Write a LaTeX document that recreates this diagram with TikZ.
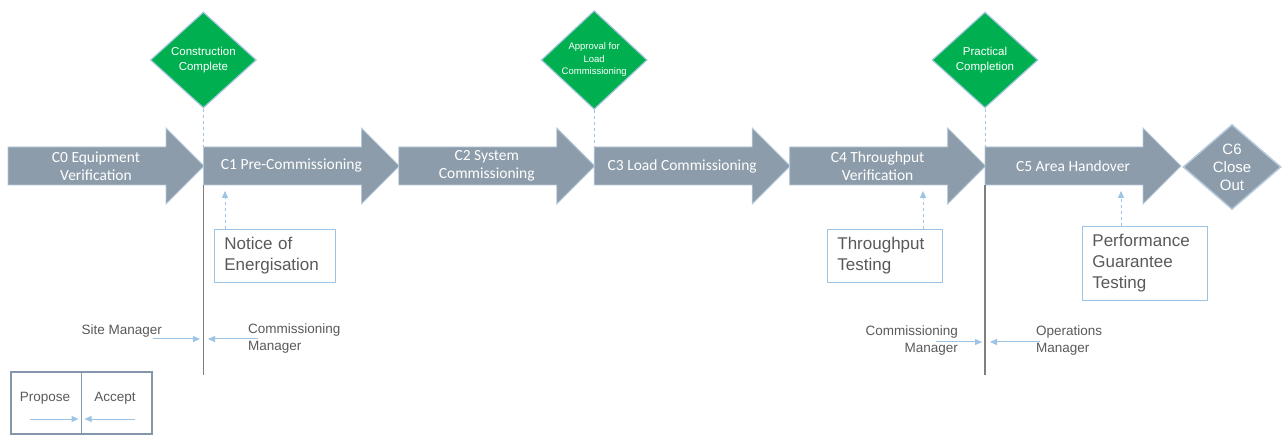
\documentclass[tikz,border=0pt]{standalone}
\usepackage{fontspec}
\setmainfont{Liberation Sans}
\newfontfamily\phasefont{Carlito}
\usepackage{tikz}
\usetikzlibrary{arrows.meta,positioning,calc,shapes.geometric}
\definecolor{phase}{HTML}{8D9CAA}
\definecolor{phaseln}{HTML}{B7C9DA}
\definecolor{gatefill}{HTML}{00B050}
\definecolor{gateln}{HTML}{A8C8E2}
\definecolor{muted}{HTML}{595959}
\definecolor{link}{HTML}{9DC3E6}
\definecolor{rule}{HTML}{7F7F7F}
\definecolor{keyln}{HTML}{8496A9}
\tikzset{
  phb/.style={fill=phase, draw=phaseln, line width=0.8pt},
  phtxt/.style={text=white, align=center, inner sep=0pt,
                font=\phasefont\fontsize{15.5}{18}\selectfont},
  gatb/.style={diamond, fill=gatefill, draw=gateln, line width=1.2pt,
               minimum width=106pt, minimum height=96pt, inner sep=0pt,
               text=white, align=center, font=\fontsize{11.5}{15}\selectfont},
  endb/.style={diamond, fill=phase, draw=phaseln, line width=1.5pt,
               minimum width=98pt, minimum height=82pt, inner sep=0pt,
               text=white, align=center, font=\fontsize{15}{18}\selectfont},
  notb/.style={draw=link, line width=0.8pt, text=muted, align=left,
               anchor=north west, inner xsep=10pt, inner ysep=8pt,
               font=\fontsize{17}{21}\selectfont},
  lbl/.style={text=muted, inner sep=0pt, font=\fontsize{13.5}{17}\selectfont},
  ar/.style={-{Triangle[length=7pt,width=6pt]}, draw=link, line width=1pt},
  dsh/.style={draw=link, line width=1pt, dashed},
  bar/.style={draw=rule, line width=1.2pt},
  keyb/.style={draw=keyln, line width=2pt, minimum width=141pt,
               minimum height=62pt, anchor=north west},
}
\begin{document}
\begin{tikzpicture}[x=1pt, y=-1pt]
  \useasboundingbox (0,0) rectangle (1282,435);

  % --- phase arrows C0 .. C5 ---
  \foreach \i/\txt in {0/{C0 Equipment\\Verification}, 1/{C1 Pre-Commissioning},
                       2/{C2 System\\Commissioning}, 3/{C3 Load Commissioning},
                       4/{C4 Throughput\\Verification}, 5/{C5 Area Handover}}{
    \pgfmathsetmacro\xs{8 + \i*195.4}
    \draw[phb] (\xs,147) -- (\xs+158,147) -- (\xs+158,128) -- (\xs+196,166)
               -- (\xs+158,204) -- (\xs+158,185) -- (\xs,185) -- cycle;
    \node[phtxt] (p\i) at (\xs+88,166) {\txt};
    \coordinate (p\i-nw) at (\xs,147);
    \coordinate (p\i-sw) at (\xs,185);
  }
  \node[endb] (c6) at (1232,167) {C6\\Close\\Out};

  % --- gates above the arrows ---
  \node[gatb] (g1) at (p1-nw |- 0,60) {Construction\\Complete};
  \node[gatb, font=\fontsize{9.5}{12.5}\selectfont] (g3) at (p3-nw |- 0,60)
       {Approval for\\Load\\Commissioning};
  \node[gatb] (g5) at (p5-nw |- 0,60) {Practical\\Completion};
  \foreach \g in {1,3,5}
    \draw[dsh] (g\g.south) -- (p\g-nw);

  % --- handover bars ---
  \coordinate (r1) at (p1-sw |- 0,375);
  \coordinate (r5) at (p5-sw |- 0,375);
  \draw[bar] (p1-sw) -- (r1);
  \draw[bar] (p5-sw) -- (r5);

  % --- tests under the arrows ---
  \node[notb, text width=101pt] (noe) at (214,229) {Notice of\\Energisation};
  \node[notb, text width=95pt] (tpt) at (827,229) {Throughput\\Testing};
  \node[notb, text width=105pt] (pgt) at (1082,226) {Performance\\Guarantee\\Testing};
  \coordinate (t1) at (225,191);
  \coordinate (t4) at (923,191);
  \coordinate (t5) at (1121,191);
  \draw[ar, dashed] (noe.north -| t1) -- (t1);
  \draw[ar, dashed] (tpt.north -| t4) -- (t4);
  \draw[ar, dashed] (pgt.north -| t5) -- (t5);

  % --- who proposes, who accepts ---
  \node[lbl, anchor=east] (sm) at (162,331) {Site Manager};
  \node[lbl, anchor=north west, align=left] (cm1) at (248,324)
       {Commissioning\\Manager};
  \node[lbl, anchor=north east, align=right] (cm2) at (958,326)
       {Commissioning\\Manager};
  \node[lbl, anchor=north west, align=left] (om) at (1036,326)
       {Operations\\Manager};
  \coordinate (in1) at (200,339);
  \coordinate (in2) at (208,339);
  \coordinate (in3) at (982,342);
  \coordinate (in4) at (990,342);
  \draw[ar] ([xshift=-9pt]sm.east |- in1) -- (in1);
  \draw[ar] ([xshift=10pt]cm1.west |- in2) -- (in2);
  \draw[ar] ([xshift=-22pt]cm2.east |- in3) -- (in3);
  \draw[ar] ([xshift=4pt]om.west |- in4) -- (in4);

  % --- legend ---
  \node[keyb] (key) at (10,371) {};
  \draw[draw=keyln, line width=1.5pt] (key.north) -- (key.south);
  \node[lbl] (prop) at (45,398) {Propose};
  \node[lbl] (acc) at (115,398) {Accept};
  \draw[ar] ([xshift=20pt,yshift=-48pt]key.north west) -- ([xshift=-3pt,yshift=-48pt]key.north);
  \draw[ar] ([xshift=-18pt,yshift=-48pt]key.north east) -- ([xshift=3pt,yshift=-48pt]key.north);
\end{tikzpicture}
\end{document}
